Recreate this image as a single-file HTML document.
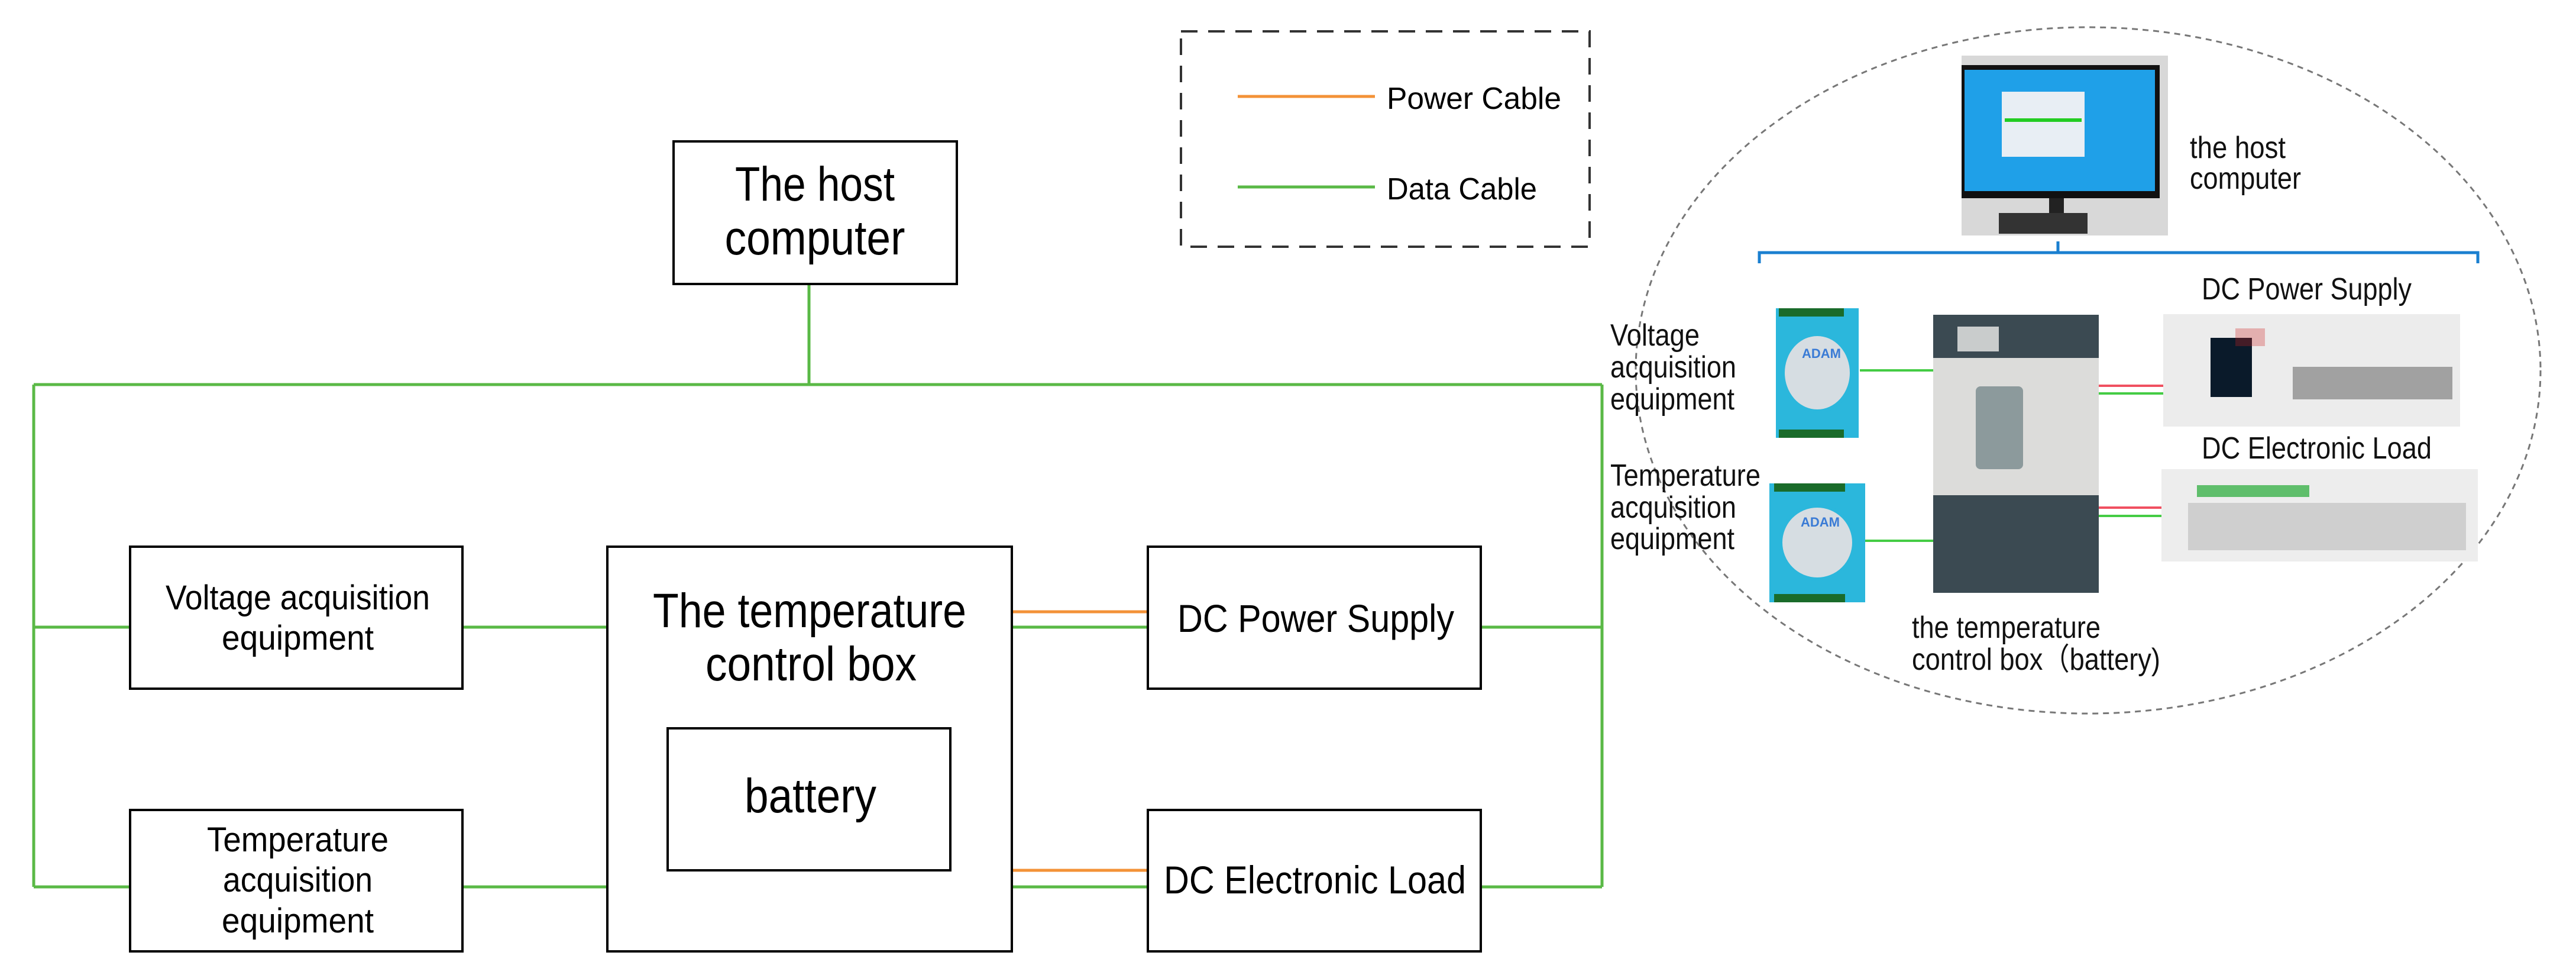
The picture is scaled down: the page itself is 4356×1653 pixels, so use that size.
<!DOCTYPE html>
<html><head><meta charset="utf-8"><style>html,body{margin:0;padding:0;background:#fff}svg{display:block}</style></head>
<body>
<svg width="4356" height="1653" viewBox="0 0 4356 1653" xmlns="http://www.w3.org/2000/svg">
<rect width="4356" height="1653" fill="#fff"/>
<g font-family="Liberation Sans Narrow, Liberation Sans, sans-serif" fill="#000">
<!-- legend -->
<rect x="1997" y="53" width="691" height="364" fill="none" stroke="#333" stroke-width="4" stroke-dasharray="28,18"/>
<line x1="2093" y1="163" x2="2325" y2="163" stroke="#f39237" stroke-width="5"/>
<line x1="2093" y1="316" x2="2325" y2="316" stroke="#5ab946" stroke-width="5"/>
<text x="2345" y="184" font-size="52" textLength="295" lengthAdjust="spacingAndGlyphs">Power Cable</text>
<text x="2345" y="337" font-size="52" textLength="254" lengthAdjust="spacingAndGlyphs">Data Cable</text>
<!-- green lines -->
<g stroke="#5ab946" stroke-width="5" fill="none">
<line x1="1368" y1="480" x2="1368" y2="650"/>
<polyline points="57,650 2709,650"/>
<line x1="57" y1="650" x2="57" y2="1499"/>
<line x1="2709" y1="650" x2="2709" y2="1499"/>
<line x1="57" y1="1060" x2="220" y2="1060"/>
<line x1="57" y1="1499" x2="220" y2="1499"/>
<line x1="782" y1="1060" x2="1027" y2="1060"/>
<line x1="782" y1="1499" x2="1027" y2="1499"/>
<line x1="1711" y1="1060" x2="1941" y2="1060"/>
<line x1="1711" y1="1499" x2="1941" y2="1499"/>
<line x1="2504" y1="1060" x2="2709" y2="1060"/>
<line x1="2504" y1="1499" x2="2709" y2="1499"/>
</g>
<line x1="1711" y1="1034" x2="1941" y2="1034" stroke="#f39237" stroke-width="5"/>
<line x1="1711" y1="1471" x2="1941" y2="1471" stroke="#f39237" stroke-width="5"/>
<!-- boxes -->
<g fill="#fff" stroke="#000" stroke-width="4">
<rect x="1139" y="239" width="479" height="241"/>
<rect x="220" y="924" width="562" height="240"/>
<rect x="220" y="1369" width="562" height="239"/>
<rect x="1027" y="924" width="684" height="684"/>
<rect x="1129" y="1231" width="478" height="240"/>
<rect x="1941" y="924" width="563" height="240"/>
<rect x="1941" y="1369" width="563" height="239"/>
</g>
<text x="1378" y="339" font-size="82" text-anchor="middle" textLength="270" lengthAdjust="spacingAndGlyphs">The host</text>
<text x="1378" y="430" font-size="82" text-anchor="middle" textLength="305" lengthAdjust="spacingAndGlyphs">computer</text>
<text x="280" y="1030" font-size="58" textLength="447" lengthAdjust="spacingAndGlyphs">Voltage acquisition</text>
<text x="375" y="1098" font-size="58" textLength="257" lengthAdjust="spacingAndGlyphs">equipment</text>
<text x="350" y="1439" font-size="58" textLength="307" lengthAdjust="spacingAndGlyphs">Temperature</text>
<text x="377" y="1507" font-size="58" textLength="253" lengthAdjust="spacingAndGlyphs">acquisition</text>
<text x="375" y="1576" font-size="58" textLength="257" lengthAdjust="spacingAndGlyphs">equipment</text>
<text x="1104" y="1060" font-size="82" textLength="530" lengthAdjust="spacingAndGlyphs">The temperature</text>
<text x="1193" y="1150" font-size="82" textLength="357" lengthAdjust="spacingAndGlyphs">control box</text>
<text x="1259" y="1373" font-size="82" textLength="223" lengthAdjust="spacingAndGlyphs">battery</text>
<text x="1991" y="1068" font-size="66" textLength="468" lengthAdjust="spacingAndGlyphs">DC Power Supply</text>
<text x="1968" y="1510" font-size="66" textLength="511" lengthAdjust="spacingAndGlyphs">DC Electronic Load</text>
</g>
<!-- right photo panel -->
<ellipse cx="3531" cy="626" rx="765" ry="580" fill="none" stroke="#777" stroke-width="3" stroke-dasharray="10,8"/>
<!-- monitor -->
<rect x="3317" y="94" width="349" height="304" fill="#d8d8d8"/>
<rect x="3317" y="110" width="335" height="225" fill="#111"/>
<rect x="3322" y="118" width="322" height="205" fill="#1fa0e8"/>
<rect x="3385" y="155" width="140" height="110" fill="#e8eef4"/>
<rect x="3390" y="200" width="130" height="6" fill="#2c2"/>
<rect x="3465" y="335" width="25" height="25" fill="#222"/>
<rect x="3380" y="360" width="150" height="35" fill="#333"/>
<g font-family="Liberation Sans, sans-serif" fill="#111" font-size="52">
<text x="3703" y="267" textLength="162" lengthAdjust="spacingAndGlyphs">the host</text>
<text x="3703" y="319" textLength="188" lengthAdjust="spacingAndGlyphs">computer</text>
<text x="2723" y="584" textLength="151" lengthAdjust="spacingAndGlyphs">Voltage</text>
<text x="2723" y="638" textLength="213" lengthAdjust="spacingAndGlyphs">acquisition</text>
<text x="2723" y="692" textLength="210" lengthAdjust="spacingAndGlyphs">equipment</text>
<text x="2723" y="821" textLength="254" lengthAdjust="spacingAndGlyphs">Temperature</text>
<text x="2723" y="875" textLength="213" lengthAdjust="spacingAndGlyphs">acquisition</text>
<text x="2723" y="928" textLength="210" lengthAdjust="spacingAndGlyphs">equipment</text>
<text x="3723" y="506" textLength="355" lengthAdjust="spacingAndGlyphs">DC Power Supply</text>
<text x="3723" y="775" textLength="389" lengthAdjust="spacingAndGlyphs">DC Electronic Load</text>
<text x="3233" y="1078" textLength="319" lengthAdjust="spacingAndGlyphs">the temperature</text>
<text x="3233" y="1132" textLength="420" lengthAdjust="spacingAndGlyphs">control box（battery)</text>
</g>
<!-- bracket -->
<path d="M2975,445 L2975,427 L4190,427 L4190,445 M3480,427 L3480,408" fill="none" stroke="#1a7fd0" stroke-width="5"/>
<!-- ADAM modules -->
<g>
<rect x="3003" y="521" width="140" height="219" fill="#2bb7dc"/>
<rect x="3008" y="521" width="110" height="14" fill="#1a6b2a"/>
<rect x="3008" y="726" width="110" height="14" fill="#1a6b2a"/>
<ellipse cx="3073" cy="630" rx="58" ry="65" fill="#d6dde2" stroke="#2bb7dc" stroke-width="6"/>
<text x="3047" y="605" font-family="Liberation Sans, sans-serif" font-size="22" font-weight="bold" fill="#3a7bd5">ADAM</text>
<rect x="2992" y="817" width="162" height="201" fill="#2bb7dc"/>
<rect x="3000" y="817" width="120" height="14" fill="#1a6b2a"/>
<rect x="3000" y="1004" width="120" height="14" fill="#1a6b2a"/>
<ellipse cx="3073" cy="917" rx="62" ry="62" fill="#d6dde2" stroke="#2bb7dc" stroke-width="6"/>
<text x="3045" y="890" font-family="Liberation Sans, sans-serif" font-size="22" font-weight="bold" fill="#3a7bd5">ADAM</text>
</g>
<!-- chamber -->
<rect x="3269" y="532" width="280" height="470" fill="#3b4a52"/>
<rect x="3269" y="605" width="280" height="232" fill="#dcdcda"/>
<rect x="3310" y="552" width="70" height="42" fill="#c9cccc"/>
<rect x="3341" y="653" width="80" height="140" rx="8" fill="#8c9a9c"/>
<!-- DC PS -->
<rect x="3658" y="531" width="502" height="190" fill="#ececec"/>
<rect x="3738" y="571" width="70" height="100" fill="#0a1a2a"/>
<rect x="3780" y="555" width="50" height="30" fill="#c22" opacity="0.3"/>
<rect x="3877" y="620" width="270" height="55" fill="#555" opacity="0.5"/>
<!-- load -->
<rect x="3655" y="793" width="535" height="156" fill="#ededed"/>
<rect x="3715" y="820" width="190" height="20" fill="#2a3" opacity="0.7"/>
<rect x="3700" y="850" width="470" height="80" fill="#999" opacity="0.35"/>
<!-- photo cables -->
<g stroke-width="4">
<line x1="3145" y1="626" x2="3269" y2="626" stroke="#44cc44"/>
<line x1="3154" y1="914" x2="3269" y2="914" stroke="#44cc44"/>
<line x1="3549" y1="652" x2="3658" y2="652" stroke="#f05060"/>
<line x1="3549" y1="665" x2="3658" y2="665" stroke="#44cc44"/>
<line x1="3549" y1="858" x2="3655" y2="858" stroke="#f05060"/>
<line x1="3549" y1="872" x2="3655" y2="872" stroke="#44cc44"/>
</g>
</svg>
</body></html>
